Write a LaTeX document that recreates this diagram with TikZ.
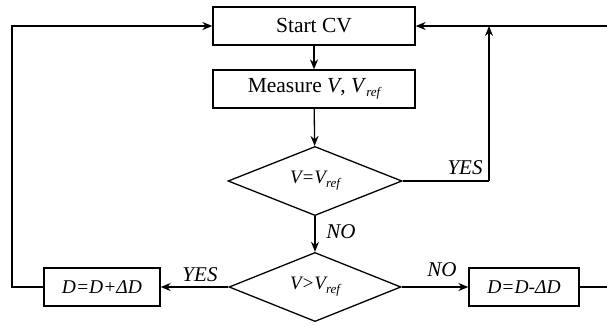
\documentclass[tikz,border=0pt]{standalone}
\usepackage{fontspec}
\setmainfont{Liberation Serif}
\usetikzlibrary{shapes.geometric,arrows.meta}
% lowered italic subscript
\newcommand{\lowsub}[1]{\raisebox{-0.45ex}{\fontsize{13}{13}\selectfont\itshape #1}}
\tikzset{
  box/.style={draw, line width=1.3pt, rectangle, inner sep=0pt, minimum height=38pt, font=\fontsize{21.5}{24}\selectfont},
  choice/.style={draw, line width=1.3pt, diamond, inner sep=0pt, font=\fontsize{19}{22}\selectfont\itshape},
  flow/.style={line width=1.3pt, -{Stealth[length=10pt,width=8pt]}},
  plain/.style={line width=1.3pt},
  lbl/.style={font=\fontsize{21}{24}\selectfont\itshape, inner sep=0pt}
}
\begin{document}
\begin{tikzpicture}[x=1pt,y=-1pt]
\useasboundingbox (0,0) rectangle (607,324);
\clip (0,0) rectangle (607,324);

\node[box, minimum width=202pt] (start) at (314,26) {Start CV};
\node[box, minimum width=202pt] (measure) at (314,89) {Measure \textit{V}, \textit{V}\lowsub{ref}};
\node[choice, minimum width=174pt, minimum height=68pt] (eq) at (315,181) {V=V\lowsub{ref}};
\node[choice, minimum width=172pt, minimum height=66pt] (gt) at (315,287) {V>V\lowsub{ref}};
\node[box, minimum width=116pt, font=\fontsize{19.5}{22}\selectfont\itshape] (inc) at (102,287) {D=D+ΔD};
\node[box, minimum width=110pt, font=\fontsize{19.5}{22}\selectfont\itshape] (dec) at (524,287) {D=D-ΔD};

\coordinate (yesup) at (489,181);
\coordinate (join) at (489,26);
\coordinate (lb) at (12,287);
\coordinate (lt) at (12,26);
\coordinate (rb) at (625,287);
\coordinate (rt) at (625,26);

\draw[flow] (start) -- (measure);
\draw[flow] (measure) -- (eq);
\draw[flow] (eq) -- (gt);
\draw[flow] (gt) -- (inc);
\draw[flow] (gt) -- (dec);
\draw[plain] (eq.east) -- (yesup);
\draw[flow] (yesup) -- (join);
\draw[flow] (inc.west) -- (lb) -- (lt) -- (start.west);
\draw[flow] (dec.east) -- (rb) -- (rt) -- (start.east);

\node[lbl] (yes1) at (465,168) {YES};
\node[lbl] (no1) at (341,232) {NO};
\node[lbl] (yes2) at (200,275) {YES};
\node[lbl] (no2) at (442,270) {NO};
\end{tikzpicture}
\end{document}
